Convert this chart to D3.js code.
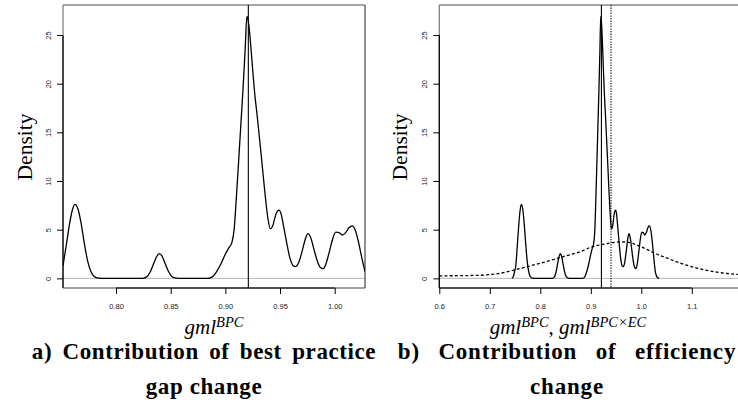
<!DOCTYPE html>
<html>
<head>
<meta charset="utf-8">
<script src="https://cdn.jsdelivr.net/npm/d3@7"></script>
<style>
  body { margin: 0; background: #fff; }
  .tick text { font-family: "Liberation Sans", Arial, sans-serif; font-size: 7.5px; fill: #222; }
  .lab { font-family: "Liberation Serif", serif; fill: #000; }
</style>
</head>
<body>
<script>
// density of gml^BPC (x, density)
var bpcX = [0.7515,0.7545,0.7575,0.7600,0.7625,0.7650,0.7680,0.7710,0.7740,0.7770,0.7800,0.7840,0.7900,
  0.8240,0.8280,0.8310,0.8340,0.8370,0.8395,0.8420,0.8450,0.8480,0.8510,0.8550,0.8600,
  0.8840,0.8880,0.8920,0.8960,0.9000,0.9030,0.9060,0.9080,0.9100,0.9120,0.9140,0.9160,0.9180,0.9197,
  0.9215,0.9230,0.9250,0.9270,0.9290,0.9310,0.9330,0.9350,0.9370,0.9390,0.9410,0.9430,0.9450,0.9470,
  0.9490,0.9510,0.9530,0.9560,0.9590,0.9620,0.9640,0.9670,0.9700,0.9730,0.9755,0.9780,0.9810,0.9840,
  0.9870,0.9895,0.9920,0.9950,0.9980,1.0010,1.0040,1.0070,1.0100,1.0130,1.0160,1.0190,1.0220,1.0250,1.0277];
var bpcY = [1.3,3.4,5.6,7.0,7.6,7.2,5.7,3.6,1.8,0.7,0.2,0.03,0,
  0,0.15,0.6,1.4,2.2,2.55,2.3,1.5,0.7,0.2,0.03,0,
  0,0.15,0.7,1.5,2.5,3.1,3.7,5.0,8.2,11.8,15.5,19.2,23.3,26.9,
  26.0,24.2,21.4,18.8,16.8,14.6,12.4,10.1,7.9,6.1,5.1,5.3,6.1,6.8,
  7.0,6.6,5.5,3.7,2.1,1.3,1.2,1.6,2.7,4.0,4.6,4.2,3.0,1.8,
  1.1,1.0,1.5,2.7,4.0,4.75,4.7,4.45,4.7,5.2,5.4,4.9,3.6,2.0,0.7];

// in panel b the same density runs down to zero at both ends
var tailLeftX = [0.7440, 0.7470, 0.7495];
var tailLeftY = [0, 0.25, 0.8];
var tailRightX = [1.0300, 1.0330, 1.0350];
var tailRightY = [0.25, 0.05, 0];

// density of gml^BPCxEC
var ecX = [0.600,0.630,0.660,0.690,0.710,0.730,0.750,0.770,0.800,0.830,0.860,0.880,0.900,0.920,
  0.940,0.960,0.975,0.990,1.010,1.030,1.050,1.070,1.090,1.110,1.130,1.150,1.170,1.198];
var ecY = [0.26,0.27,0.29,0.34,0.44,0.62,0.88,1.15,1.55,2.0,2.45,2.75,3.2,3.45,
  3.65,3.75,3.7,3.45,3.0,2.5,2.1,1.7,1.35,1.05,0.82,0.63,0.5,0.38];

var meanBPC = 0.921;
var meanEC = 0.94;

var yTicks = [0, 5, 10, 15, 20, 25];
var xTicksA = [0.80, 0.85, 0.90, 0.95, 1.00];
var xTicksB = [0.6, 0.7, 0.8, 0.9, 1.0, 1.1];

var w = 738, h = 405;
var svg = d3.select("body").append("svg").attr("width", w).attr("height", h);

var top0 = 5, bot0 = 288;
var y = d3.scaleLinear().domain([-0.99, 28.08]).range([bot0, top0]);

function zip(xs, ys) { return xs.map(function(d, i) { return [d, ys[i]]; }); }
var bpc = zip(bpcX, bpcY);
var bpcWide = zip(tailLeftX, tailLeftY).concat(bpc, zip(tailRightX, tailRightY));
var ec = zip(ecX, ecY);

function panel(left, right, xDomain, xTicks, fmt, curves, vlines) {
  var x = d3.scaleLinear().domain(xDomain).range([left, right]);
  var g = svg.append("g");

  // zero line
  g.append("line").attr("x1", left).attr("x2", right)
    .attr("y1", y(0)).attr("y2", y(0))
    .attr("stroke", "#b5b5b5").attr("stroke-width", 1);

  // box
  g.append("line").attr("x1", left).attr("x2", right).attr("y1", top0).attr("y2", top0)
    .attr("stroke", "#888").attr("stroke-width", 1.3);
  g.append("line").attr("x1", right).attr("x2", right).attr("y1", top0).attr("y2", bot0)
    .attr("stroke", "#444").attr("stroke-width", 1.2);
  g.append("line").attr("x1", left).attr("x2", right).attr("y1", bot0).attr("y2", bot0)
    .attr("stroke", "#444").attr("stroke-width", 1.2);
  g.append("line").attr("x1", left).attr("x2", left).attr("y1", top0).attr("y2", bot0)
    .attr("stroke", "#777").attr("stroke-width", 1.2);

  // axes
  var ax = g.append("g").attr("transform", "translate(0," + bot0 + ")")
    .call(d3.axisBottom(x).tickValues(xTicks).tickFormat(d3.format(fmt)).tickSize(6).tickPadding(10));
  ax.select(".domain").remove();
  ax.selectAll(".tick line").attr("stroke", "#000");
  g.append("line").attr("x1", x(xTicks[0])).attr("x2", x(xTicks[xTicks.length - 1]))
    .attr("y1", bot0).attr("y2", bot0).attr("stroke", "#000").attr("stroke-width", 1.2);

  var ay = g.append("g").attr("transform", "translate(" + left + ",0)")
    .call(d3.axisLeft(y).tickValues(yTicks).tickSize(6));
  ay.select(".domain").remove();
  ay.selectAll(".tick line").attr("stroke", "#000");
  ay.selectAll(".tick text").attr("transform", "rotate(-90)")
    .attr("x", 0).attr("y", -12).attr("dy", 0).attr("text-anchor", "middle");
  g.append("line").attr("x1", left).attr("x2", left)
    .attr("y1", y(25)).attr("y2", bot0).attr("stroke", "#000").attr("stroke-width", 1.2);

  var clipId = "clip" + Math.round(left);
  svg.append("clipPath").attr("id", clipId).append("rect")
    .attr("x", left).attr("y", top0).attr("width", right - left).attr("height", bot0 - top0);
  var pg = g.append("g").attr("clip-path", "url(#" + clipId + ")");

  var line = d3.line().x(function(d) { return x(d[0]); }).y(function(d) { return y(d[1]); })
    .curve(d3.curveMonotoneX);
  curves.forEach(function(c) {
    pg.append("path").datum(c.data).attr("d", line)
      .attr("fill", "none").attr("stroke", "#000").attr("stroke-width", 1.3)
      .attr("stroke-dasharray", c.dash);
  });
  vlines.forEach(function(v) {
    pg.append("line").attr("x1", x(v.at)).attr("x2", x(v.at))
      .attr("y1", top0).attr("y2", bot0)
      .attr("stroke", "#000").attr("stroke-width", 1.1).attr("stroke-dasharray", v.dash);
  });
  return x;
}

panel(63, 365, [0.7515, 1.0277], xTicksA, ".2f",
  [{ data: bpc, dash: null }],
  [{ at: meanBPC, dash: null }]);

panel(439.3, 741.3, [0.6, 1.198], xTicksB, ".1f",
  [{ data: ec, dash: "3,2.2" }, { data: bpcWide, dash: null }],
  [{ at: meanBPC, dash: null }, { at: meanEC, dash: "1.3,1.3" }]);

// y labels
[25, 400].forEach(function(cx) {
  svg.append("text").attr("class", "lab")
    .attr("transform", "translate(" + (cx + 6.5) + "," + 147 + ") rotate(-90)")
    .attr("text-anchor", "middle").style("font-size", "21.5px").text("Density");
});

// x labels
function gml(t, sup) {
  t.append("tspan").style("font-style", "italic").text("gml");
  t.append("tspan").style("font-style", "italic").style("font-size", "14.5px")
    .attr("dy", -7).text(sup);
}
var xa = svg.append("text").attr("class", "lab").attr("x", 214).attr("y", 334)
  .attr("text-anchor", "middle").style("font-size", "21px");
gml(xa, "BPC");

var xb = svg.append("text").attr("class", "lab").attr("x", 568).attr("y", 334)
  .attr("text-anchor", "middle").style("font-size", "21px");
gml(xb, "BPC");
xb.append("tspan").attr("dy", 7).text(", ");
xb.append("tspan").style("font-style", "italic").text("gml");
xb.append("tspan").style("font-style", "italic").style("font-size", "14.5px")
  .attr("dy", -7).text("BPC\u00d7EC");

// titles (first line justified, so a little wider)
var titles = [
  { cx: 204, lines: ["a) Contribution of best practice", "gap change"], ws: [4, 0], ls: 0.6 },
  { cx: 567, lines: ["b) Contribution of efficiency", "change"], ws: [12, 0], ls: 0.8 }
];
titles.forEach(function(t) {
  t.lines.forEach(function(s, i) {
    svg.append("text").attr("class", "lab").attr("x", t.cx).attr("y", 359 + i * 35)
      .attr("text-anchor", "middle").style("font-size", "23px").style("font-weight", "bold")
      .style("word-spacing", t.ws[i] + "px").style("letter-spacing", t.ls + "px")
      .text(s);
  });
});
</script>
</body>
</html>
